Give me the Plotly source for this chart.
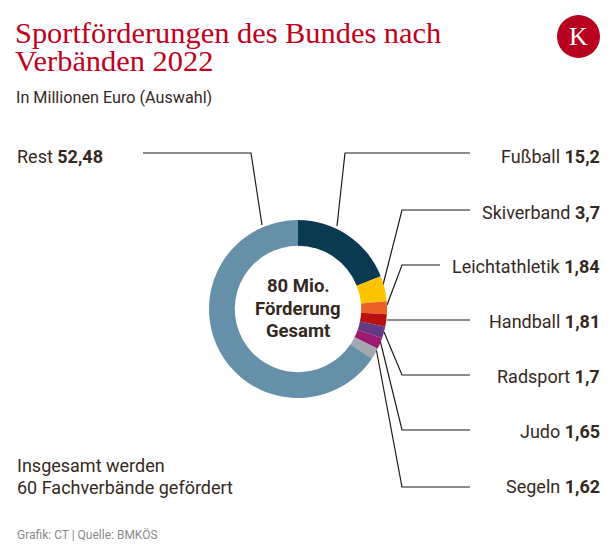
import plotly.graph_objects as go

W, H = 616, 559

categories = ["Fußball", "Skiverband", "Leichtathletik", "Handball",
              "Radsport", "Judo", "Segeln", "Rest"]
values = [15.2, 3.7, 1.84, 1.81, 1.7, 1.65, 1.62, 52.48]
value_labels = ["15,2", "3,7", "1,84", "1,81", "1,7", "1,65", "1,62", "52,48"]
colors = ["#0a3a52", "#fcc300", "#ec5f26", "#b8110f",
          "#623a86", "#9d1b6f", "#a2a7b0", "#6690aa"]

center_lines = ["80 Mio.", "Förderung", "Gesamt"]
note_lines = ["Insgesamt werden", "60 Fachverbände gefördert"]
title_lines = ["Sportförderungen des Bundes nach", "Verbänden 2022"]
subtitle = "In Millionen Euro (Auswahl)"
source = "Grafik: CT | Quelle: BMKÖS"

TEXT = "#35291f"
RED = "#c0001d"
SANS = "Roboto, 'Liberation Sans', sans-serif"
SERIF = "'Liberation Serif', 'DejaVu Serif', serif"


def px(x):
    return x / W


def py(y):
    return 1 - y / H


cx, cy, R = 298, 309, 89

fig = go.Figure(go.Pie(
    labels=categories,
    values=values,
    marker=dict(colors=colors, line=dict(width=0)),
    hole=0.71,
    sort=False,
    direction="clockwise",
    rotation=0,
    textinfo="none",
    hoverinfo="label+value",
    domain=dict(x=[px(cx - R), px(cx + R)], y=[py(cy + R), py(cy - R)]),
    showlegend=False,
))

# leader lines (pixel layout)
label_y = {"Fußball": 156, "Skiverband": 212, "Leichtathletik": 266,
           "Handball": 321, "Radsport": 376, "Judo": 431, "Segeln": 486}
paths = [
    [(143, 153), (251, 153), (262, 225)],            # Rest
    [(470, 153), (345, 153), (337, 226)],            # Fußball
    [(470, 210), (402, 210), (383, 285)],            # Skiverband
    [(440, 265), (402, 265), (387, 305)],            # Leichtathletik
    [(470, 320), (387, 320)],                        # Handball
    [(470, 375), (402, 375), (384, 332)],            # Radsport
    [(470, 430), (402, 430), (380, 340)],            # Judo
    [(470, 487), (402, 487), (376, 348)],            # Segeln
]
shapes = []
for pts in paths:
    d = "M " + " L ".join(f"{px(x):.5f},{py(y):.5f}" for x, y in pts)
    shapes.append(dict(type="path", path=d, xref="paper", yref="paper",
                       line=dict(color="#1f1a17", width=1.2), layer="below"))

# logo
shapes.append(dict(type="circle", xref="paper", yref="paper",
                   x0=px(557), x1=px(600), y0=py(58), y1=py(15),
                   fillcolor="#b8001f", line=dict(width=0)))

annotations = []


def ann(x, y, text, size, color=TEXT, family=SANS, xanchor="left", **kw):
    annotations.append(dict(x=px(x), y=py(y), xref="paper", yref="paper",
                            text=text, showarrow=False, xanchor=xanchor,
                            yanchor="middle",
                            font=dict(size=size, color=color, family=family), **kw))


ann(578.5, 37, "K", 26, color="white", family=SERIF, xanchor="center")

ann(13, 33, title_lines[0], 30.4, color=RED, family=SERIF)
ann(13, 61, title_lines[1], 30.4, color=RED, family=SERIF)
ann(14, 97, subtitle, 16.2)

for cat, vl in zip(categories, value_labels):
    if cat == "Rest":
        ann(15, 156, f"{cat} <b>{vl}</b>", 18)
    else:
        ann(602, label_y[cat], f"{cat} <b>{vl}</b>", 18, xanchor="right")

for i, t in enumerate(center_lines):
    ann(cx, 286 + i * 22.5, f"<b>{t}</b>", 18.5, xanchor="center")

for i, t in enumerate(note_lines):
    ann(15, 465 + i * 22, t, 18)

ann(15, 534, source, 12, color="#8a8a8a")

fig.update_layout(
    width=W, height=H,
    margin=dict(l=0, r=0, t=0, b=0),
    paper_bgcolor="white", plot_bgcolor="white",
    shapes=shapes, annotations=annotations,
)

fig.write_html("out.html",
               config={"displayModeBar": False},
               post_script="document.body.style.margin='0';document.body.style.padding='0';")
